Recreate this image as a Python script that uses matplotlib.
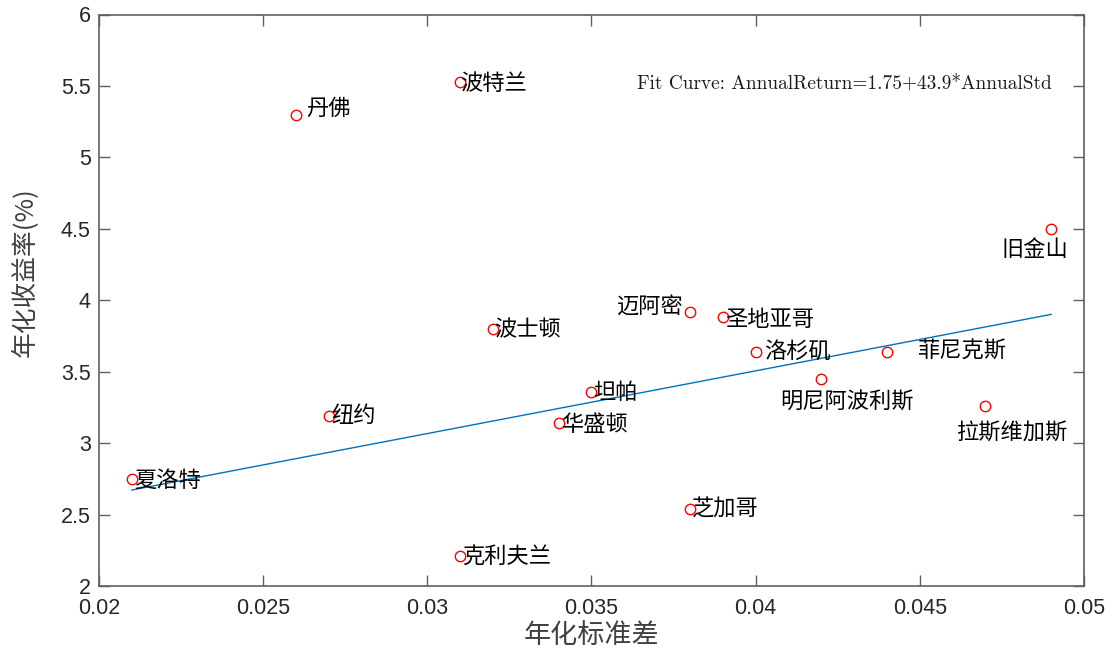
import matplotlib
matplotlib.use("Agg")
import matplotlib.pyplot as plt
import numpy as np

plt.rcParams['font.family'] = ['Liberation Sans', 'Noto Sans CJK SC', 'DejaVu Sans']

# ---- data ----
cities = ['丹佛', '波特兰', '旧金山', '迈阿密', '圣地亚哥', '波士顿', '洛杉矶', '菲尼克斯',
          '明尼阿波利斯', '坦帕', '拉斯维加斯', '纽约', '华盛顿', '夏洛特', '芝加哥', '克利夫兰']
annual_std = [0.026, 0.031, 0.049, 0.038, 0.039, 0.032, 0.040, 0.044,
              0.042, 0.035, 0.047, 0.027, 0.034, 0.021, 0.038, 0.031]
annual_return = [5.30, 5.53, 4.50, 3.92, 3.88, 3.80, 3.64, 3.64,
                 3.45, 3.36, 3.26, 3.19, 3.14, 2.75, 2.54, 2.21]
fit_intercept = 1.75
fit_slope = 43.9
x_ticks = [0.02, 0.025, 0.03, 0.035, 0.04, 0.045, 0.05]
x_tick_labels = ['0.02', '0.025', '0.03', '0.035', '0.04', '0.045', '0.05']
y_ticks = [2, 2.5, 3, 3.5, 4, 4.5, 5, 5.5, 6]
y_tick_labels = ['2', '2.5', '3', '3.5', '4', '4.5', '5', '5.5', '6']
fit_text = 'Fit Curve: AnnualReturn=1.75+43.9*AnnualStd'

# label placement (pixel offsets, alignment) -- styling only
label_style = {
    '丹佛': (10, 6, 'left', 'center'),
    '波特兰': (0, -2, 'left', 'center'),
    '旧金山': (-16, -21, 'center', 'center'),
    '迈阿密': (-6, 5, 'right', 'center'),
    '圣地亚哥': (2, -2, 'left', 'center'),
    '波士顿': (1, -1, 'left', 'center'),
    '洛杉矶': (8, 0, 'left', 'center'),
    '菲尼克斯': (30, 0, 'left', 'center'),
    '明尼阿波利斯': (26, -23, 'center', 'center'),
    '坦帕': (2, -1, 'left', 'center'),
    '拉斯维加斯': (26, -27, 'center', 'center'),
    '纽约': (2, 0, 'left', 'center'),
    '华盛顿': (2, -1, 'left', 'center'),
    '夏洛特': (2, -2, 'left', 'center'),
    '芝加哥': (2, 0, 'left', 'center'),
    '克利夫兰': (2, 0, 'left', 'center'),
}

fig = plt.figure(figsize=(11.11, 6.55), dpi=100)
ax = fig.add_axes([99 / 1111, 1 - 586 / 655, (1084 - 99) / 1111, (586 - 14.5) / 655])

xs = np.array(annual_std)
xline = np.array([xs.min(), xs.max()])
ax.plot(xline, fit_intercept + fit_slope * xline, color='#0072BD', lw=1.0, zorder=2)

ax.plot(annual_std, annual_return, linestyle='none', marker='o', ms=7.5,
        mfc='none', mec='#FF0000', mew=1.0, zorder=3)

for name, x, y in zip(cities, annual_std, annual_return):
    dx, dy, ha, va = label_style[name]
    ax.annotate(name, (x, y), xytext=(dx, dy), textcoords='offset pixels',
                ha=ha, va=va, fontsize=16, color='black', fontweight='medium',
                family=['Noto Sans CJK SC', 'DejaVu Sans'], zorder=4)

ax.text(0.03639, 5.515, fit_text, fontsize=13.9, family=['cmr10', 'DejaVu Serif'],
        ha='left', va='center', color='#1a1a1a')

ax.set_xlim(0.02, 0.05)
ax.set_ylim(2, 6)
ax.set_xticks(x_ticks)
ax.set_xticklabels(x_tick_labels)
ax.set_yticks(y_ticks)
ax.set_yticklabels(y_tick_labels)

for sp in ax.spines.values():
    sp.set_color('#606060')
    sp.set_linewidth(1.2)
ax.tick_params(direction='in', length=8, width=1, color='#606060',
               top=True, right=True, labelsize=15.5, labelcolor='#262626')
ax.tick_params(axis='x', pad=9)
ax.tick_params(axis='y', pad=6)

ax.set_xlabel('年化标准差', fontsize=19.5, color='#404040',
              family=['Noto Sans CJK SC', 'DejaVu Sans'])
ax.set_ylabel('年化收益率(%)', fontsize=18.5, color='#404040',
              family=['Noto Sans CJK SC', 'DejaVu Sans'])
ax.xaxis.set_label_coords(0.5, -0.063)
ax.yaxis.set_label_coords(-0.062, 0.549)

fig.savefig('out.png', dpi=100)
